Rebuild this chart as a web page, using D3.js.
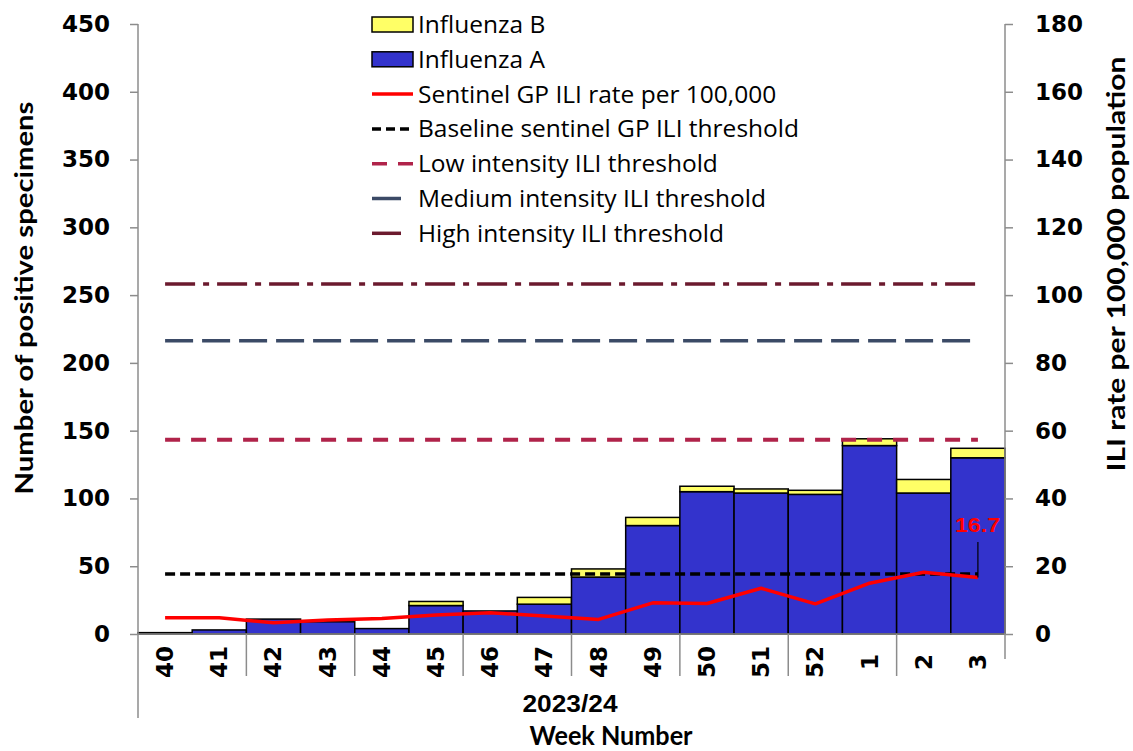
<!DOCTYPE html>
<html><head><meta charset="utf-8">
<script src="https://cdn.jsdelivr.net/npm/d3@7"></script>
<style>body{margin:0;background:#fff}svg{display:block}</style>
</head><body>
<svg id="c" width="1133" height="751"></svg>
<script>
const weeks = ["40","41","42","43","44","45","46","47","48","49","50","51","52","1","2","3"];
const fluA = [1,3,11,9,4,21,17,22,42,80,105,104,103,139,104,130];
const fluB = [0,0,0,0,0,3,0,5,6,6,4,3,3,5,10,7];
const iliRate = [4.8,4.8,3.3,4.1,4.6,5.6,6.3,5.3,4.3,9.2,9.0,13.5,8.9,15.0,18.2,16.7];
const baselineThreshold = 17.7;
const lowThreshold = 57.3;
const mediumThreshold = 86.5;
const highThreshold = 103.3;
const leftTicks = [0,50,100,150,200,250,300,350,400,450];
const rightTicks = [0,20,40,60,80,100,120,140,160,180];
const seasonLabel = "2023/24";

const svg = d3.select("#c");
const L = 138, R = 1005, T = 24, B = 634;
const x = d3.scaleBand().domain(weeks).range([L, R]).paddingInner(0).paddingOuter(0);
const yL = d3.scaleLinear().domain([0,450]).range([B, T]);
const yR = d3.scaleLinear().domain([0,180]).range([B, T]);
const axisGray = "#8c8c8c";
const numFont = "'DejaVu Sans', Verdana, sans-serif";
const txtFont = "'Open Sans', Lato, sans-serif";
const boldFont = "Lato, 'Liberation Sans', sans-serif";
const heavyFont = "'Liberation Sans', Arial, sans-serif";

// bars
const g = svg.append("g");
weeks.forEach((w,i) => {
  g.append("rect").attr("x", x(w)).attr("width", x.bandwidth())
    .attr("y", yL(fluA[i])).attr("height", yL(0)-yL(fluA[i]))
    .attr("fill", "#3333CC").attr("stroke", "#000").attr("stroke-width", 1.5);
  if (fluB[i] > 0) {
    g.append("rect").attr("x", x(w)).attr("width", x.bandwidth())
      .attr("y", yL(fluA[i]+fluB[i])).attr("height", yL(fluA[i])-yL(fluA[i]+fluB[i]))
      .attr("fill", "#FFFF66").attr("stroke", "#000").attr("stroke-width", 1.5);
  }
});

// axes
const axL = svg.append("g").attr("transform", `translate(${L},0)`)
  .call(d3.axisLeft(yL).tickValues(leftTicks).tickSize(8).tickPadding(20));
const axR = svg.append("g").attr("transform", `translate(${R},0)`)
  .call(d3.axisRight(yR).tickValues(rightTicks).tickSize(8).tickPadding(22));
[axL, axR].forEach(a => {
  a.select(".domain").remove();
  a.selectAll("line").attr("stroke", axisGray).attr("stroke-width", 1.5);
  a.selectAll("text").attr("font-family", numFont).attr("font-weight", "bold")
    .attr("font-size", 23).attr("fill", "#000");
});
svg.append("line").attr("x1", L).attr("x2", L).attr("y1", T).attr("y2", 718)
  .attr("stroke", axisGray).attr("stroke-width", 1.5);
svg.append("line").attr("x1", R).attr("x2", R).attr("y1", T).attr("y2", 659)
  .attr("stroke", axisGray).attr("stroke-width", 1.5);
svg.append("line").attr("x1", L).attr("x2", R).attr("y1", B).attr("y2", B)
  .attr("stroke", axisGray).attr("stroke-width", 1.5);
// category separators every two weeks
weeks.forEach((w,i) => {
  if (i % 2 === 0 && i > 0) {
    svg.append("line").attr("x1", x(w)).attr("x2", x(w)).attr("y1", B).attr("y2", 676)
      .attr("stroke", axisGray).attr("stroke-width", 1.5);
  }
});
// week labels rotated
weeks.forEach(w => {
  const cx = x(w) + x.bandwidth()/2;
  svg.append("text").attr("transform", `translate(${cx+8},662) rotate(-90)`)
    .attr("text-anchor", "middle").attr("font-family", numFont).attr("font-weight", "bold")
    .attr("font-size", 23).text(w);
});
svg.append("text").attr("x", 570).attr("y", 712).attr("text-anchor", "middle")
  .attr("font-family", heavyFont).attr("font-weight", "bold")
  .attr("font-size", 23).attr("textLength", 95).attr("lengthAdjust", "spacingAndGlyphs").text(seasonLabel);
svg.append("text").attr("x", 611).attr("y", 745).attr("text-anchor", "middle")
  .attr("font-family", boldFont).attr("font-weight", "bold")
  .attr("font-size", 26).attr("textLength", 163).attr("lengthAdjust", "spacingAndGlyphs").text("Week Number");
svg.append("text").attr("transform", "translate(33,298) rotate(-90)").attr("text-anchor", "middle")
  .attr("font-family", boldFont).attr("font-weight", "bold")
  .attr("font-size", 25).attr("textLength", 393).attr("lengthAdjust", "spacingAndGlyphs").text("Number of positive specimens");
svg.append("text").attr("transform", "translate(1125,264) rotate(-90)").attr("text-anchor", "middle")
  .attr("font-family", boldFont).attr("font-weight", "bold")
  .attr("font-size", 25).attr("textLength", 415).attr("lengthAdjust", "spacingAndGlyphs").text("ILI rate per 100,000 population");

// threshold lines
const x0 = x(weeks[0]) + x.bandwidth()/2, x1 = x(weeks[weeks.length-1]) + x.bandwidth()/2;
const thr = [
  {v: highThreshold, c: "#6B1A2E", d: "30,8,6,8", w: 3.5},
  {v: mediumThreshold, c: "#3B4A66", d: "28,9", w: 3.5},
  {v: lowThreshold, c: "#B0234A", d: "15,11", w: 4},
  {v: baselineThreshold, c: "#000", d: "10,5", w: 3.5}
];
thr.forEach(t => {
  svg.append("line").attr("x1", x0).attr("x2", x1).attr("y1", yR(t.v)).attr("y2", yR(t.v))
    .attr("stroke", t.c).attr("stroke-width", t.w).attr("stroke-dasharray", t.d);
});

// ILI line
const line = d3.line().x((d,i) => x(weeks[i]) + x.bandwidth()/2).y(d => yR(d));
svg.append("path").datum(iliRate).attr("d", line).attr("fill", "none")
  .attr("stroke", "#FF0000").attr("stroke-width", 3.5).attr("stroke-linejoin", "round");

// last value label
const lastX = x1, lastY = yR(iliRate[iliRate.length-1]);
svg.append("line").attr("x1", lastX).attr("x2", lastX).attr("y1", lastY).attr("y2", 542)
  .attr("stroke", "#000").attr("stroke-width", 1.2);
svg.append("text").attr("x", 977.5).attr("y", 532).attr("text-anchor", "middle")
  .attr("font-family", heavyFont).attr("font-weight", "bold")
  .attr("font-size", 21).attr("textLength", 45).attr("lengthAdjust", "spacingAndGlyphs")
  .attr("fill", "#FF0000").text(iliRate[iliRate.length-1].toFixed(1));

// legend
const legend = [
  {t: "Influenza B", type: "rect", c: "#FFFF66"},
  {t: "Influenza A", type: "rect", c: "#3333CC"},
  {t: "Sentinel GP ILI rate per 100,000", type: "line", c: "#FF0000", d: null, w: 3.5, x2: 413},
  {t: "Baseline sentinel GP ILI threshold", type: "line", c: "#000", d: "9,5", w: 3.5, x2: 413},
  {t: "Low intensity ILI threshold", type: "line", c: "#B0234A", d: "15,11", w: 3.5, x2: 413},
  {t: "Medium intensity ILI threshold", type: "line", c: "#3B4A66", d: null, w: 3.5, x2: 401},
  {t: "High intensity ILI threshold", type: "line", c: "#6B1A2E", d: null, w: 3.5, x2: 401}
];
legend.forEach((l,i) => {
  const cy = 24.5 + i*34.8;
  if (l.type === "rect") {
    svg.append("rect").attr("x", 372).attr("y", cy-7.5).attr("width", 41).attr("height", 15)
      .attr("fill", l.c).attr("stroke", "#000").attr("stroke-width", 1.5);
  } else {
    svg.append("line").attr("x1", 372).attr("x2", l.x2).attr("y1", cy).attr("y2", cy)
      .attr("stroke", l.c).attr("stroke-width", l.w).attr("stroke-dasharray", l.d);
  }
  svg.append("text").attr("x", 418).attr("y", cy+8.5).attr("font-family", txtFont)
    .attr("font-size", 24.5).attr("fill", "#000").text(l.t);
});
</script>
</body></html>
